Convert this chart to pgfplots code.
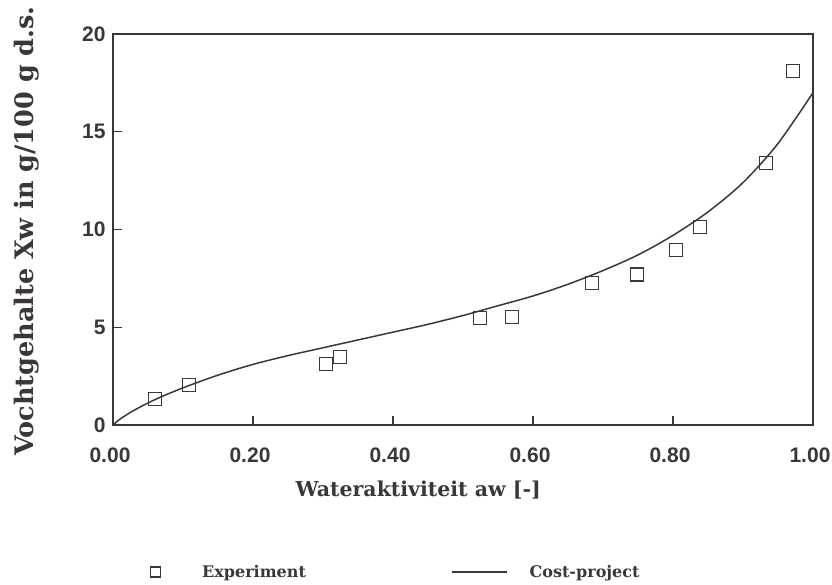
\documentclass[border=0pt]{standalone}
\usepackage{pgfplots}
\pgfplotsset{compat=1.18}
\usepackage{fontspec}
\setmainfont{Liberation Sans}
\newfontfamily\labelfont{DejaVu Serif}
\definecolor{ink}{RGB}{60,55,55}
\begin{document}
\begin{tikzpicture}
\path[use as bounding box] (-113pt,-160pt) rectangle (719pt,425pt);
\begin{axis}[
  at={(0pt,0pt)}, anchor=south west,
  scale only axis, width=700pt, height=391pt,
  xmin=0, xmax=1, ymin=0, ymax=20,
  xtick={0,0.2,0.4,0.6,0.8,1.0},
  xticklabels={0.00,0.20,0.40,0.60,0.80,1.00},
  ytick={0,5,10,15,20},
  /pgf/number format/assume math mode=true,
  tick align=inside, tick pos=left,
  major tick length=9pt,
  axis line style={line width=1.4pt, ink},
  every tick/.style={line width=1.2pt, ink},
  tick label style={font=\fontsize{21}{23}\selectfont\bfseries, text=ink},
  xticklabel style={yshift=-19pt, xshift=-3pt},
  yticklabel style={xshift=-4pt},
  xlabel={Wateraktiviteit aw [-]},
  ylabel={Vochtgehalte Xw in g/100 g d.s.},
  xlabel style={at={(axis description cs:0.436,0)}, anchor=center, yshift=-65pt,
    font=\labelfont\fontsize{20.5}{23}\selectfont\bfseries, text=ink},
  ylabel style={at={(axis description cs:-0.123,0.496)}, anchor=center,
    font=\labelfont\fontsize{25.5}{28}\selectfont\bfseries, text=ink},
  legend columns=2,
  legend style={draw=none, fill=none, at={(axis description cs:0,0)}, anchor=west,
    xshift=14pt, yshift=-147pt, inner sep=0pt,
    font=\labelfont\fontsize{16}{18}\selectfont\bfseries, text=ink,
    /tikz/every even column/.append style={column sep=143pt}},
  legend cell align=left,
]
\addplot[only marks, mark=square, mark size=6.5pt, mark options={line width=1.1pt, ink},
  legend image code/.code={\path[draw=none] (0pt,0pt) -- (73pt,0pt); \path[draw=none] plot[only marks, mark=square, mark size=5pt, mark options={draw=ink, line width=1.1pt}] coordinates {(28pt,0pt)};}]
coordinates {
(0.060,1.33) (0.109,2.05) (0.304,3.10) (0.324,3.50)
(0.524,5.49) (0.570,5.54) (0.684,7.28) (0.749,7.70)
(0.804,8.97) (0.839,10.15) (0.933,13.40) (0.971,18.10)
};
\addlegendentry{Experiment}
\addplot[ink, line width=1.5pt, smooth,
  legend image code/.code={\draw[ink, line width=1.5pt] (0pt,0pt) -- (55pt,0pt); \path[draw=none] (55pt,0pt) -- (76pt,0pt);}]
coordinates {
(0,0) (0.01,0.30) (0.03,0.75) (0.06,1.30) (0.10,1.90) (0.15,2.55)
(0.20,3.10) (0.25,3.55) (0.30,3.95) (0.35,4.35) (0.40,4.75) (0.45,5.15)
(0.50,5.60) (0.55,6.10) (0.60,6.60) (0.65,7.20) (0.70,7.90) (0.75,8.70)
(0.80,9.70) (0.85,10.90) (0.90,12.40) (0.95,14.40) (1.00,17.00)
};
\addlegendentry{Cost-project}
\end{axis}
\end{tikzpicture}
\end{document}
